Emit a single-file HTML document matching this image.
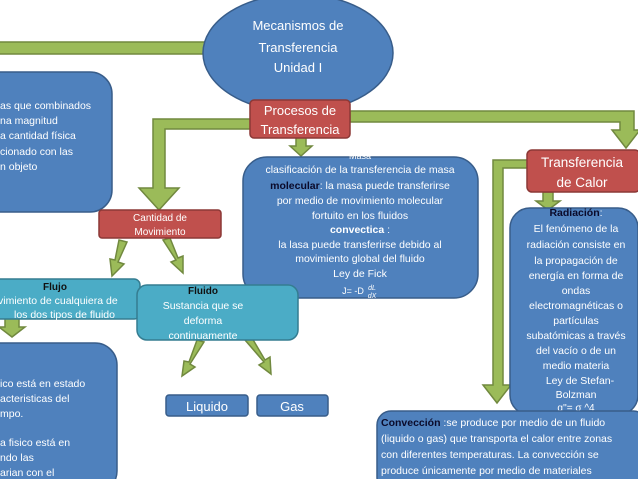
<!DOCTYPE html>
<html><head><meta charset="utf-8"><style>
html,body{margin:0;padding:0;background:#fff;width:638px;height:479px;overflow:hidden}
svg{display:block}
text{font-family:"Liberation Sans",sans-serif;fill:#fff}
</style></head><body>
<svg width="638" height="479" viewBox="0 0 638 479" xmlns="http://www.w3.org/2000/svg">
<g fill="#9BBB59" stroke="#71893F" stroke-width="1.5">
<rect x="-5" y="42" width="210" height="12"/>
<polygon points="293,88 304,88 304,98 310,98 298.5,109 287,98 293,98"/>
<polygon points="252,119 252,129 165,129 165,188 179,188 159,210 139,188 153,188 153,119"/>
<polygon points="350,111 634,111 634,130 640,130 626,148 612,130 620,130 620,122 350,122"/>
<polygon points="296,137 306,137 306,146 312,146 301,156 290,146 296,146"/>
<polygon points="528,160 528,168 503,168 503,385 511,385 497,403 483,385 493,385 493,160"/>
<polygon points="543,192 553,192 553,201 560,201 548,210 536,201 543,201"/>
<polygon points="119,240 127,242 118,262 124,264 112,276 110,259 115,260"/>
<polygon points="163,240 170,238 178,258 183,256 183,273 171,262 176,260"/>
<polygon points="5,318 19,318 19,327 25,327 12,337 -1,327 5,327"/>
<polygon points="197,340 204,342 190,364 195,367 182,376 184,361 189,362"/>
<polygon points="245,340 252,338 265,360 270,357 271,374 259,365 264,362"/>
</g>
<ellipse cx="298" cy="53" rx="95" ry="59" fill="#4F81BD" stroke="#385D8A" stroke-width="1.5"/>
<text x="298" y="30" font-size="13" text-anchor="middle">Mecanismos de</text>
<text x="298" y="52" font-size="13" text-anchor="middle">Transferencia</text>
<text x="298" y="72" font-size="13" text-anchor="middle">Unidad I</text>
<rect x="-25" y="72" width="137" height="140" rx="22" fill="#4F81BD" stroke="#385D8A" stroke-width="1.5"/>
<g font-size="10.5">
<text x="0" y="109" font-family="Liberation Serif">as que combinados</text>
<text x="0" y="124" font-family="Liberation Serif">na magnitud</text>
<text x="0" y="139">a cantidad física</text>
<text x="0" y="155">cionado con las</text>
<text x="0" y="170">n objeto</text>
</g>
<rect x="250" y="100" width="100" height="38" rx="4" fill="#C0504D" stroke="#8C3836" stroke-width="1.5"/>
<text x="300" y="115" font-size="13" text-anchor="middle">Procesos de</text>
<text x="300" y="134" font-size="13" text-anchor="middle">Transferencia</text>
<rect x="243" y="157" width="235" height="141" rx="24" fill="#4F81BD" stroke="#385D8A" stroke-width="1.5"/>
<g font-size="10.5" text-anchor="middle">
<text x="360" y="159" font-size="9">Masa</text>
<text x="360" y="173">clasificación de la transferencia de masa</text>
<text x="360" y="189"><tspan fill="#0a0a2a" font-weight="bold">molecular</tspan>: la masa puede transferirse</text>
<text x="360" y="204">por medio de movimiento molecular</text>
<text x="360" y="219">fortuito en los fluidos</text>
<text x="360" y="233" fill="#0a0a2a" font-weight="bold">convectica <tspan fill="#fff" font-weight="normal">:</tspan></text>
<text x="360" y="248">la lasa puede transferirse  debido al</text>
<text x="360" y="262">movimiento global del fluido</text>
<text x="360" y="277">Ley de Fick</text>
<text x="353" y="294" font-size="9">J= -D</text>
<text x="372" y="290" font-size="7" font-style="italic" font-family="Liberation Serif">dL</text>
<text x="372" y="298" font-size="7" font-style="italic" font-family="Liberation Serif">dX</text>
</g>
<rect x="527" y="150" width="113" height="42" rx="5" fill="#C0504D" stroke="#8C3836" stroke-width="1.5"/>
<text x="582" y="167" font-size="13.5" text-anchor="middle">Transferencia</text>
<text x="582" y="187" font-size="13.5" text-anchor="middle">de Calor</text>
<rect x="510" y="208" width="128" height="207" rx="20" fill="#4F81BD" stroke="#385D8A" stroke-width="1.5"/>
<g font-size="10.5" text-anchor="middle">
<text x="576" y="216"><tspan fill="#0a0a2a" font-weight="bold">Radiación</tspan>:</text>
<text x="576" y="232">El fenómeno de la</text>
<text x="576" y="248">radiación consiste en</text>
<text x="576" y="264">la propagación de</text>
<text x="576" y="279">energía en forma de</text>
<text x="576" y="294">ondas</text>
<text x="576" y="309">electromagnéticas o</text>
<text x="576" y="324">partículas</text>
<text x="576" y="339">subatómicas a través</text>
<text x="576" y="354">del vacío o de un</text>
<text x="576" y="369">medio materia</text>
<text x="580" y="384">Ley de Stefan-</text>
<text x="576" y="398">Bolzman</text>
<text x="576" y="411" font-size="10">q''= σ    ^4</text>
</g>
<rect x="377" y="411" width="270" height="80" rx="14" fill="#4F81BD" stroke="#385D8A" stroke-width="1.5"/>
<g font-size="10.5">
<text x="381" y="426"><tspan fill="#0a0a2a" font-weight="bold">Convección</tspan> :se produce por medio de un fluido</text>
<text x="381" y="442">(liquido o gas) que transporta el calor entre zonas</text>
<text x="381" y="458">con diferentes temperaturas. La convección se</text>
<text x="381" y="474">produce únicamente por medio de materiales</text>
</g>
<rect x="99" y="210" width="122" height="28" rx="3" fill="#C0504D" stroke="#8C3836" stroke-width="1.5"/>
<text x="160" y="221" font-size="10" text-anchor="middle">Cantidad de</text>
<text x="160" y="235" font-size="10" text-anchor="middle">Movimiento</text>
<rect x="-10" y="279" width="150" height="40" rx="6" fill="#4BACC6" stroke="#357D91" stroke-width="1.5"/>
<text x="55" y="290" font-size="10" font-weight="bold" style="fill:#111" text-anchor="middle">Flujo</text>
<text x="-2" y="304" font-size="10.5">vimiento de cualquiera de</text>
<text x="14" y="318" font-size="10.5">los dos tipos de fluido</text>
<rect x="137" y="285" width="161" height="55" rx="10" fill="#4BACC6" stroke="#357D91" stroke-width="1.5"/>
<text x="203" y="294" font-size="10" font-weight="bold" style="fill:#111" text-anchor="middle">Fluido</text>
<text x="203" y="309" font-size="10.5" text-anchor="middle">Sustancia que se</text>
<text x="203" y="324" font-size="10.5" text-anchor="middle">deforma</text>
<text x="203" y="339" font-size="10.5" text-anchor="middle">continuamente</text>
<rect x="-25" y="343" width="142" height="150" rx="22" fill="#4F81BD" stroke="#385D8A" stroke-width="1.5"/>
<g font-size="10.5">
<text x="0" y="387">ico está en estado</text>
<text x="0" y="402">acteristicas del</text>
<text x="0" y="417">mpo.</text>
<text x="0" y="446">a fisico está en</text>
<text x="0" y="461">ndo las</text>
<text x="0" y="476">arian con el</text>
</g>
<rect x="166" y="395" width="82" height="21" rx="3" fill="#4F81BD" stroke="#385D8A" stroke-width="1.5"/>
<text x="207" y="411" font-size="13" text-anchor="middle">Liquido</text>
<rect x="257" y="395" width="71" height="21" rx="3" fill="#4F81BD" stroke="#385D8A" stroke-width="1.5"/>
<text x="292" y="411" font-size="13" text-anchor="middle">Gas</text>
</svg>
</body></html>
